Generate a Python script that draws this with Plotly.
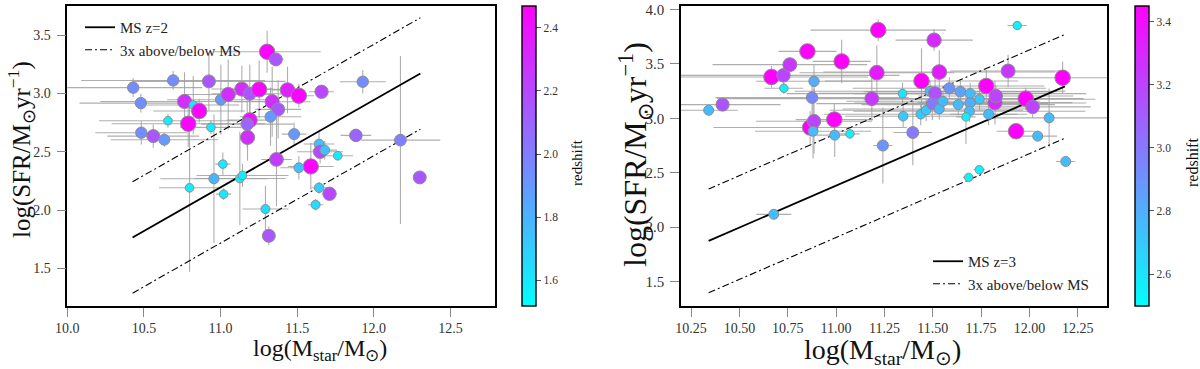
import math
import plotly.graph_objects as go

# ---------------- Left panel (MS z=2) ----------------
L_mass = [10.430, 10.480, 10.691, 10.924, 10.765, 10.822, 10.861, 10.657, 10.789, 10.937,
          10.483, 10.561, 10.633, 11.002, 11.050, 11.139, 11.191, 11.252, 11.304, 11.361,
          11.437, 11.511, 11.659, 11.928, 11.337, 11.376, 11.191, 11.174, 11.326, 11.176,
          11.480, 11.883, 12.174, 11.365, 11.589, 11.511, 11.643, 11.650, 11.680, 11.765,
          11.015, 10.957, 11.126, 11.143, 10.798, 11.020, 11.643, 11.711, 11.620, 11.293,
          11.315, 12.300]
L_sfr = [3.049, 2.917, 3.111, 3.103, 2.931, 2.900, 2.849, 2.766, 2.740, 2.709,
         2.663, 2.634, 2.603, 2.946, 2.991, 3.037, 2.997, 3.034, 3.357, 3.291,
         3.029, 2.980, 3.014, 3.100, 2.929, 2.863, 2.771, 2.737, 2.800, 2.623,
         2.651, 2.640, 2.600, 2.434, 2.374, 2.363, 2.566, 2.500, 2.514, 2.466,
         2.394, 2.269, 2.271, 2.297, 2.191, 2.137, 2.191, 2.140, 2.046, 2.009,
         1.780, 2.280]
L_z = [1.95, 1.95, 1.95, 2.15, 2.30, 1.60, 2.45, 1.60, 2.45, 1.60,
       1.95, 2.15, 1.90, 1.90, 2.30, 2.30, 2.15, 2.45, 2.45, 2.15,
       2.35, 2.45, 2.20, 1.95, 2.30, 2.15, 2.40, 2.10, 1.90, 2.30,
       1.90, 2.10, 2.00, 2.25, 2.45, 1.75, 1.75, 2.20, 1.75, 1.60,
       1.60, 1.80, 1.60, 1.60, 1.60, 1.60, 1.70, 2.20, 1.65, 1.65,
       2.15, 2.15]
L_xerr = [0.45, 0.40, 0.60, 0.50, 0.55, 0.30, 0.30, 0.45, 0.50, 0.20,
          0.30, 0.30, 0.35, 0.35, 0.30, 0.20, 0.25, 0.20, 0.35, 0.05,
          0.10, 0.10, 0.08, 0.15, 0.25, 0.15, 0.15, 0.30, 0.20, 0.05,
          0.08, 0.10, 0.26, 0.10, 0.15, 0.12, 0.10, 0.15, 0.08, 0.10,
          0.05, 0.35, 0.30, 0.30, 0.20, 0.05, 0.05, 0.05, 0.05, 0.15,
          0.03, 0.02]
L_yerr = [0.08, 0.08, 0.08, 0.25, 0.25, 0.25, 0.10, 0.06, 0.20, 0.06,
          0.10, 0.10, 0.06, 0.30, 0.30, 0.20, 0.25, 0.25, 0.18, 0.05,
          0.20, 0.10, 0.05, 0.10, 0.30, 0.25, 0.20, 0.20, 0.25, 0.20,
          0.10, 0.05, 0.72, 0.40, 0.20, 0.10, 0.10, 0.10, 0.08, 0.04,
          0.10, 0.55, 0.40, 0.10, 0.72, 0.05, 0.05, 0.05, 0.05, 0.20,
          0.08, 0.02]
L_ms_mass = [10.426, 12.304]
L_ms_slope = 0.748
L_ms_intercept = -6.033
L_xticks = [10.0, 10.5, 11.0, 11.5, 12.0, 12.5]
L_yticks = [1.5, 2.0, 2.5, 3.0, 3.5]
L_cticks = [1.6, 1.8, 2.0, 2.2, 2.4]

# ---------------- Right panel (MS z=3) ----------------
R_mass = [10.341, 10.413, 10.666, 10.728, 10.761, 10.730, 10.852, 10.886, 10.876, 10.866,
          10.886, 10.881, 10.991, 10.993, 11.029, 11.072, 11.218, 11.211, 11.185, 11.242,
          11.344, 11.347, 11.397, 11.442, 11.438, 11.466, 11.486, 11.507, 11.534, 11.512,
          11.498, 11.534, 11.553, 11.586, 11.643, 11.632, 11.694, 11.694, 11.690, 11.672,
          11.742, 11.777, 11.822, 11.826, 11.789, 11.890, 11.931, 11.937, 11.981, 12.017,
          12.043, 12.102, 12.172, 12.188, 11.686, 11.741, 10.678]
R_sfr = [3.074, 3.126, 3.380, 3.395, 3.493, 3.276, 3.615, 3.340, 3.190, 2.915,
         2.973, 2.881, 2.988, 2.845, 3.523, 2.857, 3.811, 3.419, 3.181, 2.750,
         3.227, 3.019, 2.869, 3.343, 3.037, 3.074, 3.248, 3.719, 3.425, 3.230,
         3.135, 3.086, 3.156, 3.276, 3.245, 3.126, 3.227, 3.141, 3.065, 3.013,
         3.175, 3.297, 3.144, 3.205, 3.037, 3.435, 2.881, 3.853, 3.181, 3.105,
         2.836, 3.004, 3.373, 2.603, 2.457, 2.527, 2.117]
R_z = [2.75, 3.15, 3.45, 3.20, 3.25, 2.55, 3.45, 2.80, 2.95, 3.45,
       3.20, 2.75, 3.45, 2.75, 3.45, 2.55, 3.45, 3.35, 3.25, 2.90,
       2.60, 2.70, 3.00, 3.45, 2.70, 2.70, 2.75, 3.30, 3.35, 3.15,
       3.00, 2.75, 2.75, 2.90, 2.85, 2.75, 2.75, 2.80, 2.75, 2.55,
       2.70, 3.45, 3.30, 3.20, 2.75, 3.25, 3.45, 2.55, 3.45, 3.20,
       2.75, 2.75, 3.45, 2.75, 2.55, 2.55, 2.75]
R_xerr = [0.15, 0.30, 0.50, 0.60, 0.40, 0.10, 0.15, 0.30, 0.50, 0.50,
          0.30, 0.30, 0.20, 0.10, 0.15, 0.05, 0.35, 0.40, 0.80, 0.05,
          0.60, 0.30, 0.10, 0.50, 0.50, 0.50, 0.70, 0.20, 0.60, 0.60,
          0.60, 0.50, 0.50, 0.50, 0.50, 0.50, 0.60, 0.60, 0.60, 0.05,
          0.60, 0.30, 0.40, 0.40, 0.20, 0.30, 0.10, 0.05, 0.30, 0.30,
          0.10, 0.30, 0.30, 0.05, 0.03, 0.03, 0.09]
R_yerr = [0.05, 0.05, 0.10, 0.10, 0.05, 0.05, 0.05, 0.15, 0.20, 0.15,
          0.30, 0.25, 0.15, 0.20, 0.20, 0.05, 0.10, 0.25, 0.20, 0.35,
          0.10, 0.10, 0.30, 0.30, 0.10, 0.10, 0.10, 0.10, 0.20, 0.20,
          0.15, 0.10, 0.10, 0.10, 0.10, 0.10, 0.10, 0.10, 0.10, 0.25,
          0.10, 0.15, 0.20, 0.10, 0.10, 0.15, 0.05, 0.02, 0.10, 0.10,
          0.05, 0.27, 0.15, 0.02, 0.03, 0.03, 0.03]
R_ms_mass = [10.341, 12.184]
R_ms_slope = 0.771
R_ms_intercept = -6.100
R_xticks = [10.25, 10.50, 10.75, 11.00, 11.25, 11.50, 11.75, 12.00, 12.25]
R_yticks = [1.5, 2.0, 2.5, 3.0, 3.5, 4.0]
R_cticks = [2.6, 2.8, 3.0, 3.2, 3.4]

OFFSET = math.log10(3.0)
W, H = 1200, 369
FONT = "Liberation Serif"
COOL = [[0.0, "rgb(0,255,255)"], [1.0, "rgb(255,0,255)"]]
ERRC = "rgba(160,160,160,0.85)"


def px_x(p):
    return p / W


def px_y(p):
    return 1 - p / H


def sizes(z, zmin, zmax, smin, smax):
    return [smin + (v - zmin) / (zmax - zmin) * (smax - smin) for v in z]


fig = go.Figure()


def add_panel(mass, sfr, z, xerr, yerr, ms_mass, slope, icpt, xa, ya, cax, leg, ms_name, zmin, zmax):
    fig.add_trace(go.Scatter(
        x=mass, y=sfr, mode="markers", xaxis=xa, yaxis=ya, showlegend=False, hoverinfo="skip",
        marker=dict(size=1, color="rgba(0,0,0,0)"),
        error_x=dict(type="data", array=xerr, color=ERRC, thickness=1.1, width=0),
        error_y=dict(type="data", array=yerr, color=ERRC, thickness=1.1, width=0),
    ))
    ms = [slope * m + icpt for m in ms_mass]
    fig.add_trace(go.Scatter(
        x=ms_mass, y=ms, mode="lines", xaxis=xa, yaxis=ya, name=ms_name, legend=leg,
        line=dict(color="black", width=1.8),
    ))
    fig.add_trace(go.Scatter(
        x=ms_mass, y=[v + OFFSET for v in ms], mode="lines", xaxis=xa, yaxis=ya,
        name="3x above/below MS", legend=leg,
        line=dict(color="black", width=1.1, dash="7px,3px,2px,3px"),
    ))
    fig.add_trace(go.Scatter(
        x=ms_mass, y=[v - OFFSET for v in ms], mode="lines", xaxis=xa, yaxis=ya,
        showlegend=False,
        line=dict(color="black", width=1.1, dash="7px,3px,2px,3px"),
    ))
    fig.add_trace(go.Scatter(
        x=mass, y=sfr, mode="markers", xaxis=xa, yaxis=ya, showlegend=False,
        marker=dict(color=z, coloraxis=cax, size=sizes(z, zmin, zmax, 8, 15.5),
                    line=dict(color="#8c8c8c", width=1), opacity=1),
    ))


add_panel(L_mass, L_sfr, L_z, L_xerr, L_yerr, L_ms_mass, L_ms_slope, L_ms_intercept,
          "x", "y", "coloraxis", "legend", "MS z=2", 1.52, 2.47)
add_panel(R_mass, R_sfr, R_z, R_xerr, R_yerr, R_ms_mass, R_ms_slope, R_ms_intercept,
          "x2", "y2", "coloraxis2", "legend2", "MS z=3", 2.50, 3.45)

y_dom = [px_y(305.7), px_y(5.5)]

axis_common = dict(showline=True, linecolor="black", linewidth=1.6, mirror=True,
                   ticks="outside", ticklen=9, tickwidth=1.3, tickcolor="#888",
                   showgrid=False, zeroline=False, automargin=False,
                   tickfont=dict(family=FONT, size=14, color="#333"))


def cbar(xleft, ticks):
    return dict(
        x=px_x(xleft), xanchor="left", xpad=0, ypad=0,
        y=y_dom[0], yanchor="bottom", len=y_dom[1] - y_dom[0], lenmode="fraction",
        thickness=14, thicknessmode="pixels",
        outlinewidth=1.4, outlinecolor="black",
        ticks="outside", ticklen=5, tickwidth=1, tickcolor="#555",
        tickvals=ticks, tickformat=".1f",
        tickfont=dict(family=FONT, size=11.5, color="#333"),
    )


fig.update_layout(
    width=W, height=H,
    margin=dict(l=0, r=0, t=0, b=0, pad=0, autoexpand=False),
    paper_bgcolor="white", plot_bgcolor="white",
    xaxis=dict(domain=[px_x(67.3), px_x(494.7)], range=[10.0, 12.789],
               tickvals=L_xticks, tickformat=".1f", anchor="y", **axis_common),
    yaxis=dict(domain=y_dom, range=[1.181, 3.753], tickvals=L_yticks, tickformat=".1f",
               anchor="x", ticklabelstandoff=3, **axis_common),
    xaxis2=dict(domain=[px_x(681), px_x(1107.3)], range=[10.198, 12.403],
                tickvals=R_xticks, tickformat=".2f", anchor="y2", **axis_common),
    yaxis2=dict(domain=y_dom, range=[1.277, 4.037], tickvals=R_yticks, tickformat=".1f",
                anchor="x2", ticklabelstandoff=3, **axis_common),
    coloraxis=dict(colorscale=COOL, cmin=1.52, cmax=2.47, colorbar=cbar(522, L_cticks)),
    coloraxis2=dict(colorscale=COOL, cmin=2.50, cmax=3.45, colorbar=cbar(1134.5, R_cticks)),
    legend=dict(x=px_x(80), y=px_y(11), xanchor="left", yanchor="top",
                bgcolor="rgba(0,0,0,0)", borderwidth=0, tracegroupgap=0,
                font=dict(family=FONT, size=15, color="#222")),
    legend2=dict(x=px_x(928), y=px_y(245), xanchor="left", yanchor="top",
                 bgcolor="rgba(0,0,0,0)", borderwidth=0, tracegroupgap=0,
                 font=dict(family=FONT, size=15, color="#222")),
)
fig.update_layout(yaxis2_tickfont_size=15)

ann = [
    dict(text="log(SFR/M<sub>⊙</sub>yr<sup>−1</sup>)", x=px_x(21), y=px_y(150), textangle=-90, size=25),
    dict(text="log(M<sub>star</sub>/M<sub>⊙</sub>)", x=px_x(320), y=px_y(350), textangle=0, size=24),
    dict(text="log(SFR/M<sub>⊙</sub>yr<sup>−1</sup>)", x=px_x(636), y=px_y(155), textangle=-90, size=32),
    dict(text="log(M<sub>star</sub>/M<sub>⊙</sub>)", x=px_x(882), y=px_y(351.5), textangle=0, size=28),
    dict(text="redshift", x=px_x(577), y=px_y(163), textangle=-90, size=15),
    dict(text="redshift", x=px_x(1192), y=px_y(163), textangle=-90, size=16),
]
for a in ann:
    fig.add_annotation(text=a["text"], x=a["x"], y=a["y"], xref="paper", yref="paper",
                       xanchor="center", yanchor="middle", showarrow=False,
                       textangle=a["textangle"],
                       font=dict(family=FONT, size=a["size"], color="#111"))

fig.write_html("out.html", config={"displayModeBar": False},
               post_script="document.body.style.margin='0px';document.body.style.padding='0px';")
